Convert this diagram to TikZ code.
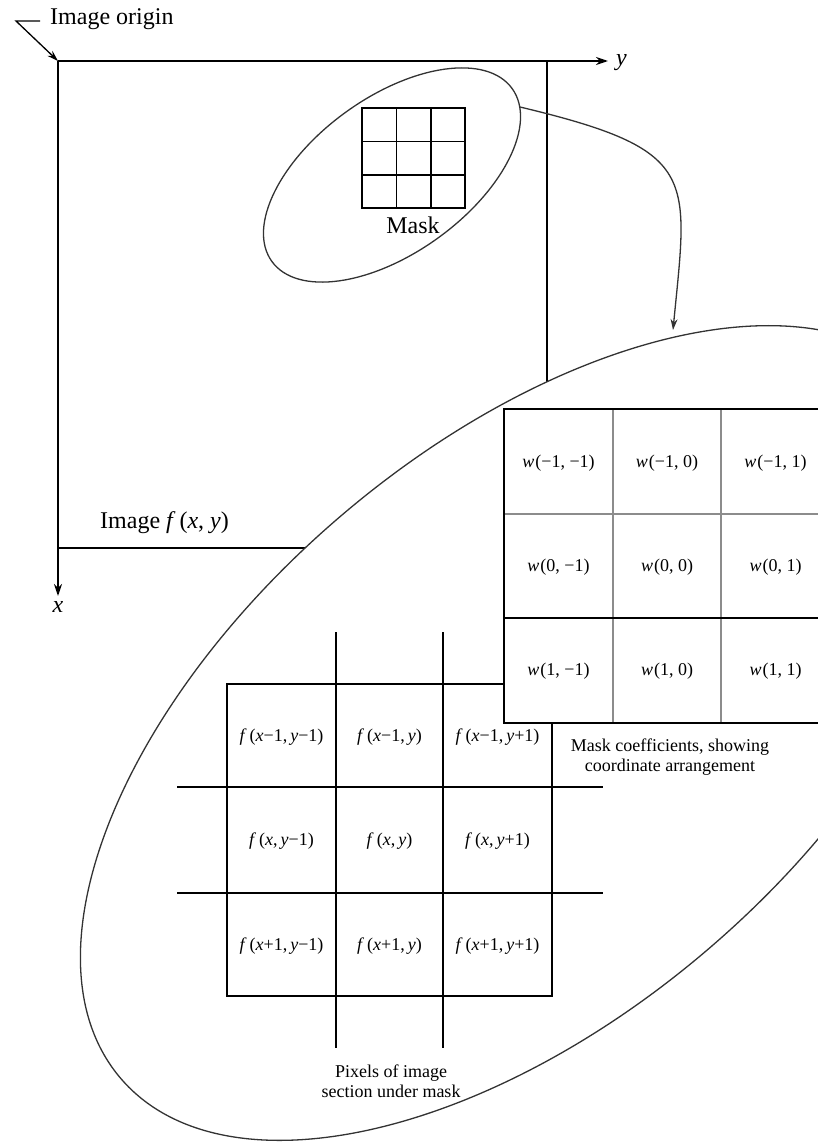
\documentclass[tikz,border=0pt]{standalone}
\usepackage{fontspec}
\setmainfont{Liberation Serif}
\usetikzlibrary{arrows.meta}
\begin{document}
\begin{tikzpicture}[x=1pt,y=-1pt,
  frame/.style={line width=1.8pt, black},
  ell/.style={line width=1.3pt, black!80},
  gline/.style={line width=1.6pt, black},
  wgray/.style={line width=2pt, black!45},
  lbl/.style={font=\fontsize{24}{28}\selectfont, inner sep=0pt},
  cell/.style={font=\fontsize{18}{21}\selectfont, inner sep=0pt},
  captext/.style={font=\fontsize{18}{20.5}\selectfont, align=center, inner sep=0pt},
  axtip/.style={-{Stealth[length=12pt,width=8pt]}},
  smalltip/.style={-{Stealth[length=11pt,width=7pt]}}
]
\useasboundingbox (0,0) rectangle (818,1148);
\begin{scope}
\clip (0,0) rectangle (818,1148);
% image frame and axes
\coordinate (org) at (58,61);
\coordinate (yend) at (608,61);
\coordinate (xend) at (58,596);
\draw[frame, axtip] (org) -- (yend);
\draw[frame, axtip] (org) -- (xend);
\draw[frame] (547,61) -- (547,420);
\draw[frame] (58,548) -- (340,548);
% big ellipse
\draw[ell, fill=white, rotate around={40.6:(524,733)}] (524,733) ellipse [x radius=531, y radius=284];
% pixel grid
\draw[gline] (227,684) rectangle (552,996);
\draw[gline] (336,632) -- (336,1048);
\draw[gline] (443,632) -- (443,1048);
\draw[gline] (177,787) -- (603,787);
\draw[gline] (177,893) -- (603,893);
\node[cell] (f11) at (281.5,737) {\textit{f}\,(\textit{x}−1,\,\textit{y}−1)};
\node[cell] (f12) at (389.5,737) {\textit{f}\,(\textit{x}−1,\,\textit{y})};
\node[cell] (f13) at (497.5,737) {\textit{f}\,(\textit{x}−1,\,\textit{y}+1)};
\node[cell] (f21) at (281.5,841) {\textit{f}\,(\textit{x},\,\textit{y}−1)};
\node[cell] (f22) at (389.5,841) {\textit{f}\,(\textit{x},\,\textit{y})};
\node[cell] (f23) at (497.5,841) {\textit{f}\,(\textit{x},\,\textit{y}+1)};
\node[cell] (f31) at (281.5,946) {\textit{f}\,(\textit{x}+1,\,\textit{y}−1)};
\node[cell] (f32) at (389.5,946) {\textit{f}\,(\textit{x}+1,\,\textit{y})};
\node[cell] (f33) at (497.5,946) {\textit{f}\,(\textit{x}+1,\,\textit{y}+1)};
% mask coefficients box
\fill[white] (504,409) rectangle (830,723);
\draw[wgray] (613,409) -- (613,723);
\draw[wgray] (721,409) -- (721,723);
\draw[wgray] (504,514) -- (830,514);
\draw[gline] (504,618) -- (830,618);
\draw[gline] (830,409) -- (504,409) -- (504,723) -- (830,723);
\node[cell] (w11) at (558.5,463) {\textit{w}\kern1pt(−1, −1)};
\node[cell] (w12) at (667,463) {\textit{w}\kern1pt(−1, 0)};
\node[cell] (w13) at (775.5,463) {\textit{w}\kern1pt(−1, 1)};
\node[cell] (w21) at (558.5,567) {\textit{w}\kern1pt(0, −1)};
\node[cell] (w22) at (667,567) {\textit{w}\kern1pt(0, 0)};
\node[cell] (w23) at (775.5,567) {\textit{w}\kern1pt(0, 1)};
\node[cell] (w31) at (558.5,671) {\textit{w}\kern1pt(1, −1)};
\node[cell] (w32) at (667,671) {\textit{w}\kern1pt(1, 0)};
\node[cell] (w33) at (775.5,671) {\textit{w}\kern1pt(1, 1)};
\node[captext] (wcap) at (670,757) {Mask coefficients, showing\\coordinate arrangement};
\node[captext] (fcap) at (391,1081) {Pixels of image\\section under mask};
% mask in image
\draw[gline] (362,108) rectangle (465,208);
\draw[gline] (396.3,108) -- (396.3,208);
\draw[gline] (430.7,108) -- (430.7,208);
\draw[gline] (362,141.3) -- (465,141.3);
\draw[gline] (362,174.7) -- (465,174.7);
\node[lbl, anchor=base] (masklab) at (413,233) {Mask};
\draw[ell, rotate around={35.7:(392,175)}] (392,175) ellipse [x radius=148, y radius=78];
% connecting arrow
\coordinate (ms) at (520,107);
\coordinate (me) at (673,330);
\draw[ell, smalltip] (ms) .. controls (700,150) and (688,175) .. (me);
% labels
\node[lbl, anchor=base west] (olab) at (50,25) {Image origin};
\coordinate (ol) at (40,21);
\coordinate (oc) at (16,21);
\draw[line width=1.3pt, smalltip] (ol) -- (oc) -- (org);
\node[lbl, anchor=base west] (ylab) at (616,66) {\textit{y}};
\node[lbl, anchor=base] (xlab) at (58,612) {\textit{x}};
\node[lbl, anchor=base west] (imlab) at (100,528) {Image \textit{f}\,(\textit{x}, \textit{y})};
\end{scope}
\end{tikzpicture}
\end{document}
